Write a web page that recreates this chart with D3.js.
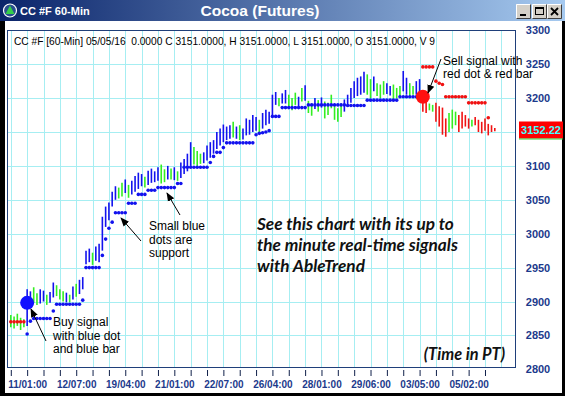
<!DOCTYPE html>
<html>
<head>
<meta charset="utf-8">
<script src="https://cdn.jsdelivr.net/npm/d3@7/dist/d3.min.js"></script>
<style>
	body { margin: 0; background: #000; }
	svg { display: block; }
</style>
</head>
<body>
<svg id="chart" width="565" height="396"></svg>
<script>
// 60-minute bars (index 0 = first bar on the left)
const bar_high = [
	2880, 2878, 2882, 2876, 2874,
	2918,
	2915, 2921, 2912, 2918, 2916, 2910, 2914,
	2928, 2924, 2918, 2915, 2913, 2910, 2922, 2926, 2932, 2936,
	2975, 2978, 2972, 2981, 2985,
	3025, 3040, 3046, 3062, 3070, 3068, 3075, 3080, 3072, 3078,
	3085, 3090, 3088, 3084, 3093, 3096, 3092, 3098, 3102, 3095, 3100, 3096, 3098, 3092, 3105, 3110, 3118,
	3135, 3128, 3122, 3118, 3120, 3130, 3135, 3138, 3150, 3155, 3161, 3158, 3160, 3165, 3158, 3160, 3155, 3170, 3168, 3175, 3172, 3168, 3178, 3183, 3180, 3205, 3209, 3200, 3207,
	3212, 3205, 3200, 3208, 3202, 3215, 3219, 3196, 3192, 3200, 3197, 3201, 3195, 3193, 3205, 3190, 3185, 3192, 3198, 3205, 3215,
	3225, 3230, 3232, 3239, 3235, 3228, 3232, 3222, 3220, 3225, 3222, 3218, 3220, 3215, 3218, 3240, 3230, 3222, 3218, 3225, 3228,
	3200, 3195, 3192, 3190, 3193, 3188, 3186, 3170, 3178, 3183, 3180, 3175, 3180, 3175, 3170, 3168, 3172, 3168, 3165, 3170, 3162, 3160, 3156,
];
const bar_low = [
	2862, 2860, 2864, 2858, 2862,
	2864,
	2893, 2898, 2895, 2897, 2900, 2895, 2898,
	2906, 2908, 2903, 2900, 2899, 2899, 2903, 2907, 2911, 2918,
	2955, 2958, 2954, 2960, 2958,
	2975, 3010, 3020, 3040, 3050, 3052, 3055, 3060, 3053, 3058,
	3062, 3066, 3070, 3068, 3072, 3075, 3076, 3078, 3074, 3076, 3080, 3080, 3079, 3078, 3082, 3088, 3092,
	3100, 3102, 3100, 3103, 3104, 3108, 3112, 3118, 3125, 3130, 3135, 3138, 3140, 3142, 3140, 3138, 3139, 3145, 3146, 3150, 3152, 3150, 3155, 3160, 3162, 3175, 3190, 3188, 3192,
	3192, 3185, 3182, 3190, 3187, 3195, 3196, 3178, 3174, 3184, 3180, 3186, 3170, 3175, 3185, 3168, 3165, 3172, 3180, 3188, 3193,
	3200, 3203, 3205, 3208, 3205, 3200, 3210, 3203, 3200, 3205, 3206, 3204, 3198, 3200, 3203, 3210, 3205, 3203, 3205, 3205, 3198,
	3180, 3178, 3182, 3180, 3165, 3158, 3146, 3143, 3150, 3155, 3160, 3150, 3155, 3158, 3155, 3158, 3160, 3150, 3148, 3152, 3145, 3150, 3151,
];
// b = up (blue), g = neutral (green), r = down (red)
const bar_trend = (
	"ggggg" + "b" + "bggbbgb" + "bgggbgbgbb" + "bbgbb" + "bbbbbggbgb" +
	"bbbgbbbbggbgbgbbb" + "bgggbbbbbbbbbgbgbbbbbgbbbbbgb" + "bgggbgbggbgbggggggbbb" +
	"bbbbggbgggbbgggbbggbb" + "rrggrrrrgggrrrrgrrrrrrr"
).split("");

// AbleTrend stop dots: support below (blue), resistance above (red)
const stop_value = [
	2870, 2870, 2870, 2870, 2870,
	2852,
	2871, 2875, 2875, 2875, 2875, 2875, 2875,
	2886, 2896, 2896, 2896, 2896, 2896, 2896, 2896, 2896, 2902,
	2950, 2950, 2950, 2950, 2950,
	2968, 2992, 3008, 3017, 3031, 3031, 3031, 3031, 3045, 3045,
	3045, 3058, 3058, 3058, 3064, 3064, 3064, 3068, 3068, 3068, 3068, 3068, 3068, 3074, 3074, 3098, 3098,
	3098, 3098, 3098, 3098, 3098, 3098, 3105, 3114, 3120, 3120, 3127, 3134, 3134, 3134, 3134, 3134, 3134, 3134, 3134, 3134, 3146, 3148, 3149, 3150, 3152, 3173, 3173, 3173, 3186,
	3186, 3186, 3186, 3186, 3186, 3186, 3186, 3190, 3190, 3190, 3190, 3190, 3190, 3190, 3190, 3190, 3190, 3190, 3190, 3189, 3189,
	3189, 3189, 3189, 3189, 3197, 3197, 3197, 3197, 3197, 3197, 3197, 3197, 3197, 3197, 3202, 3202, 3202, 3202, 3202, 3202, 3202,
	3246, 3246, 3246, 3246, 3225, 3222, 3220, 3202, 3202, 3202, 3202, 3202, 3202, 3202, 3193, 3193, 3193, 3193, 3193, 3193, 3171, null, null,
];
const stop_trend = d3.range(bar_high.length).map(i => (i < 5 || i >= 126) ? "r" : "b");

const buy_signal = {index: 5, price: 2898};
const sell_signal = {index: 126, price: 3202};

const x_label_index = [5, 20, 35, 50, 65, 80, 95, 110, 125, 140];
const x_labels = ["11/01:00", "12/07:00", "19/04:00", "21/01:00", "22/07:00",
	"26/04:00", "28/01:00", "29/06:00", "03/05:00", "05/02:00"];
const y_ticks = [2800, 2850, 2900, 2950, 3000, 3050, 3100, 3150, 3200, 3250, 3300];
const last_price = 3152.22;

const header_text = "CC #F [60-Min] 05/05/16  0.0000 C 3151.0000, H 3151.0000, L 3151.0000, O 3151.0000, V 9";

const colors = {b: "#1212ee", g: "#33ee22", r: "#f01212"};
const axis_color = "#1c3a8c";
const grid_color = "#a6eef2";

const plot = {left: 8, top: 31, right: 516, bottom: 368};

const svg = d3.select("#chart");

// window frame
svg.append("rect").attr("width", 565).attr("height", 396).attr("fill", "#000");
svg.append("rect")
	.attr("x", 5).attr("y", 21).attr("width", 557).attr("height", 372)
	.attr("fill", "#fff");

// title bar
const grad = svg.append("defs").append("linearGradient").attr("id", "titlebar");
grad.append("stop").attr("offset", "0%").attr("stop-color", "#0a246a");
grad.append("stop").attr("offset", "100%").attr("stop-color", "#a6caf0");
svg.append("rect").attr("width", 565).attr("height", 21).attr("fill", "url(#titlebar)");

// little app icon
svg.append("circle").attr("cx", 10).attr("cy", 10.5).attr("r", 6.5)
	.attr("fill", "#2a4f8e").attr("stroke", "#fff").attr("stroke-width", 1.2);
svg.append("path").attr("d", "M10,5.5 L14.5,14 L5.5,14 Z").attr("fill", "#35d04a");

svg.append("text")
	.attr("x", 20).attr("y", 15)
	.attr("fill", "#fff")
	.style("font", "bold 11px 'Liberation Sans', Arial, sans-serif")
	.text("CC #F 60-Min");
svg.append("text")
	.attr("x", 260).attr("y", 16)
	.attr("text-anchor", "middle")
	.attr("fill", "#fff")
	.style("font", "bold 15.5px 'Liberation Sans', Arial, sans-serif")
	.text("Cocoa (Futures)");

// window buttons
[516, 532, 547].forEach((bx, k) => {
	const g = svg.append("g").attr("transform", "translate(" + bx + ",4)");
	g.append("rect").attr("width", 15).attr("height", 15).attr("fill", "#d4d0c8");
	g.append("path").attr("d", "M0.5,14.5 V0.5 H14.5").attr("fill", "none").attr("stroke", "#fff");
	g.append("path").attr("d", "M0.5,14.5 H14.5 V0.5").attr("fill", "none").attr("stroke", "#404040");
	if (k == 0) {
		g.append("rect").attr("x", 4).attr("y", 10).attr("width", 6).attr("height", 2).attr("fill", "#000");
	} else if (k == 1) {
		g.append("rect").attr("x", 3.5).attr("y", 3.5).attr("width", 8).attr("height", 7)
			.attr("fill", "none").attr("stroke", "#000");
		g.append("rect").attr("x", 3.5).attr("y", 3.5).attr("width", 8).attr("height", 1.5).attr("fill", "#000");
	} else {
		g.append("path").attr("d", "M4,4 L11,11 M11,4 L4,11").attr("stroke", "#000").attr("stroke-width", 1.8);
	}
});

const x = d3.scaleLinear().domain([0, 148]).range([10.8, 494.8]);
const y = d3.scaleLinear().domain([2800, 3300]).range([369.3, 30.3]);

// grid
const grid = svg.append("g");
grid.selectAll("line.v")
	.data(d3.range(0, 151, 5))
	.join("line")
		.attr("x1", d => Math.round(x(d)) + 0.5).attr("x2", d => Math.round(x(d)) + 0.5)
		.attr("y1", plot.top).attr("y2", plot.bottom)
		.attr("stroke", grid_color);
grid.selectAll("line.h")
	.data(y_ticks.filter(d => d > 2800 && d < 3300))
	.join("line")
		.attr("x1", plot.left).attr("x2", plot.right)
		.attr("y1", d => Math.round(y(d)) + 0.5).attr("y2", d => Math.round(y(d)) + 0.5)
		.attr("stroke", grid_color);

// header line
svg.append("text")
	.attr("x", 14).attr("y", 45)
	.attr("fill", "#000")
	.style("font", "10.2px 'Liberation Sans', Arial, sans-serif")
	.attr("xml:space", "preserve")
	.text(header_text);

// bars
svg.append("g")
	.selectAll("line")
	.data(bar_high)
	.join("line")
		.attr("x1", (d, i) => x(i)).attr("x2", (d, i) => x(i))
		.attr("y1", d => y(d)).attr("y2", (d, i) => y(bar_low[i]))
		.attr("stroke", (d, i) => colors[bar_trend[i]])
		.attr("stroke-width", 1.6);

// stop dots
svg.append("g")
	.selectAll("circle")
	.data(stop_value.map((v, i) => ({i: i, v: v})).filter(d => d.v != null))
	.join("circle")
		.attr("cx", d => x(d.i)).attr("cy", d => y(d.v))
		.attr("r", 1.8)
		.attr("fill", d => colors[stop_trend[d.i]]);

// signal dots
svg.append("circle")
	.attr("cx", x(buy_signal.index)).attr("cy", y(buy_signal.price)).attr("r", 7)
	.attr("fill", "#1010ff");
svg.append("circle")
	.attr("cx", x(sell_signal.index)).attr("cy", y(sell_signal.price)).attr("r", 7)
	.attr("fill", "#ff1010");

// plot border
svg.append("rect")
	.attr("x", plot.left - 0.5).attr("y", plot.top - 0.5)
	.attr("width", plot.right - plot.left).attr("height", plot.bottom - plot.top)
	.attr("fill", "none").attr("stroke", "#1f3f7a");

// axes
const x_axis = svg.append("g")
	.attr("transform", "translate(0," + (plot.bottom + 2) + ")")
	.call(d3.axisBottom(x)
		.tickValues(d3.range(0, 146, 5))
		.tickSize(6)
		.tickFormat(d => {
			const k = x_label_index.indexOf(d);
			return k >= 0 ? x_labels[k] : "";
		}));
x_axis.select(".domain").remove();
x_axis.selectAll("line").attr("stroke", "#10204a");
x_axis.selectAll("text")
	.attr("y", 11).attr("dy", "0.71em")
	.attr("fill", axis_color)
	.style("font", "bold 10px 'Liberation Sans', Arial, sans-serif");

// the last-price box sits where the 3150 label would be
const y_axis = svg.append("g")
	.attr("transform", "translate(538,0)")
	.call(d3.axisRight(y)
		.tickValues(y_ticks.filter(d => d != 3150))
		.tickFormat(d3.format("d"))
		.tickSize(0).tickPadding(0));
y_axis.select(".domain").remove();
y_axis.selectAll("text")
	.attr("text-anchor", "middle")
	.attr("fill", axis_color)
	.style("font", "bold 11px 'Liberation Sans', Arial, sans-serif");

// last price box
svg.append("rect")
	.attr("x", 519).attr("y", y(last_price) - 9).attr("width", 44).attr("height", 17)
	.attr("fill", "#ff0000");
svg.append("line")
	.attr("x1", 519).attr("x2", 563)
	.attr("y1", y(last_price) + 8.5).attr("y2", y(last_price) + 8.5)
	.attr("stroke", "#33cc33");
svg.append("text")
	.attr("x", 541).attr("y", y(last_price)).attr("dy", "0.35em")
	.attr("text-anchor", "middle")
	.attr("fill", "#44ffff")
	.style("font", "bold 11px 'Liberation Sans', Arial, sans-serif")
	.text(last_price.toFixed(2));

// annotations
svg.select("defs").append("marker")
	.attr("id", "head")
	.attr("viewBox", "0 0 10 10")
	.attr("refX", 9).attr("refY", 5)
	.attr("markerWidth", 9).attr("markerHeight", 9)
	.attr("markerUnits", "userSpaceOnUse")
	.attr("orient", "auto")
	.append("path").attr("d", "M0,1 L10,5 L0,9 Z").attr("fill", "#000");

function note(lines, x0, y0, step) {
	svg.append("g").selectAll("text")
		.data(lines)
		.join("text")
			.attr("x", x0).attr("y", (d, i) => y0 + i * step)
			.attr("fill", "#000")
			.style("font", "12px 'Liberation Sans', Arial, sans-serif")
			.text(d => d);
}
function arrow(x1, y1, x2, y2) {
	svg.append("line")
		.attr("x1", x1).attr("y1", y1).attr("x2", x2).attr("y2", y2)
		.attr("stroke", "#000").attr("stroke-width", 1)
		.attr("marker-end", "url(#head)");
}

note(["Buy signal", "with blue dot", "and blue bar"], 53, 326, 13.5);
arrow(46, 341, 31, 309);

note(["Small blue", "dots are", "support"], 149, 230, 13.7);
arrow(141, 241, 121, 218);
arrow(180, 215, 167, 193);

note(["Sell signal with", "red dot & red bar"], 443, 65, 12.5);
arrow(441, 59, 428, 93);

const promo = svg.append("g")
	.selectAll("text")
	.data(["See this chart with its up to", "the minute real-time signals", "with AbleTrend"])
	.join("text")
		.attr("x", 257).attr("y", (d, i) => 229.5 + i * 21)
		.attr("fill", "#111")
		.style("font", "italic bold 16px Lato, 'Open Sans', sans-serif")
		.text(d => d);
// size the promo text to the reference line width
const w0 = promo.nodes()[0].getComputedTextLength();
const promo_size = 16 * 197 / w0;
promo.style("font-size", promo_size + "px");

svg.append("text")
	.attr("x", 505).attr("y", 360)
	.attr("text-anchor", "end")
	.attr("fill", "#111")
	.style("font", "italic bold " + (promo_size * 0.95) + "px Lato, 'Open Sans', sans-serif")
	.text("(Time in PT)");
</script>
</body>
</html>
